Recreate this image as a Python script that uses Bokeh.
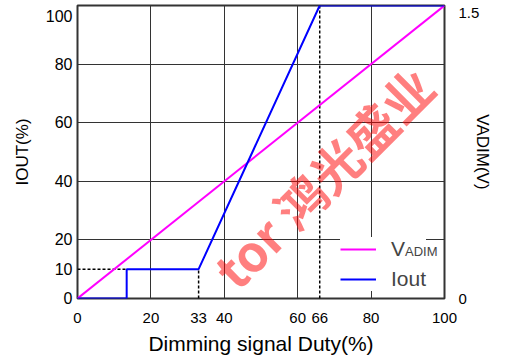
from bokeh.plotting import figure
from bokeh.models import FixedTicker, LinearAxis, Range1d, Label, Legend, LegendItem
from bokeh.core.properties import value
from bokeh.embed import file_html
from bokeh.resources import INLINE

# ---------------- data ----------------
x_ticks = [0, 20, 33, 40, 60, 66, 80, 100]
y_ticks = [0, 10, 20, 40, 60, 80, 100]
v_ticks = [0.0, 1.5]
grid_vals = [20, 40, 60, 80]

# Iout (%) versus dimming duty (%)
iout_x = [0, 13.4, 13.4, 33, 66, 100]
iout_y = [0, 0, 10, 10, 100, 100]

# VADIM (V) versus dimming duty (%)
vadim_x = [0, 100]
vadim_v = [0.0, 1.5]

FONT = "Liberation Sans"

p = figure(width=520, height=362, x_range=Range1d(0, 100), y_range=Range1d(0, 100),
           output_backend="svg", toolbar_location=None, title=None,
           min_border_left=77, min_border_right=76, min_border_top=5, min_border_bottom=64)
p.extra_y_ranges = {"v": Range1d(0, 1.5)}

p.outline_line_color = "#333333"
p.outline_line_width = 2
p.background_fill_color = "white"
p.border_fill_color = "white"

# grid
p.xgrid.ticker = FixedTicker(ticks=grid_vals)
p.ygrid.ticker = FixedTicker(ticks=grid_vals)
for g in (p.xgrid, p.ygrid):
    g.grid_line_color = "#333333"
    g.grid_line_width = 1

# axes
p.xaxis.ticker = FixedTicker(ticks=x_ticks)
p.yaxis.ticker = FixedTicker(ticks=y_ticks)
p.yaxis.major_label_overrides = {y_ticks[-1]: "\n" + str(y_ticks[-1])}
right = LinearAxis(y_range_name="v", ticker=FixedTicker(ticks=v_ticks))
right.major_label_overrides = {v_ticks[-1]: "\n" + str(v_ticks[-1])}
p.add_layout(right, "right")

for ax in (p.xaxis[0], p.yaxis[0], right):
    ax.axis_line_color = None
    ax.major_tick_line_color = None
    ax.minor_tick_line_color = None
    ax.major_tick_in = 0
    ax.major_tick_out = 0
    ax.minor_tick_in = 0
    ax.minor_tick_out = 0
    ax.major_label_text_font = FONT
    ax.major_label_text_color = "black"
    ax.axis_label_text_font = FONT
    ax.axis_label_text_font_style = "normal"
    ax.axis_label_text_color = "black"

p.xaxis.major_label_text_font_size = "15px"
p.xaxis.major_label_standoff = 14
p.xaxis.axis_label = "Dimming signal Duty(%)"
p.xaxis.axis_label_text_font_size = "21px"
p.xaxis.axis_label_standoff = 6

p.yaxis.major_label_text_font_size = "16px"
p.yaxis.major_label_standoff = 5
p.yaxis.major_label_text_line_height = 0.45
p.yaxis.axis_label = "IOUT(%)"
p.yaxis.axis_label_text_font_size = "17px"
p.yaxis.axis_label_standoff = 11

right.major_label_text_font_size = "15px"
right.major_label_standoff = 14
right.major_label_text_line_height = 0.2
right.axis_label = "VADIM(V)"
right.axis_label_text_font_size = "17px"
right.axis_label_standoff = -9

# dashed guide lines derived from the Iout breakpoints
p.segment(x0=[0, iout_x[3], iout_x[4]], y0=[iout_y[2], 0, 0],
          x1=[iout_x[2], iout_x[3], iout_x[4]], y1=[iout_y[2], iout_y[3], iout_y[4]],
          line_color="black", line_width=1.5, line_dash="3 2")

r_v = p.line(vadim_x, vadim_v, y_range_name="v", line_color="#ff00ff", line_width=2)
r_i = p.line(iout_x, iout_y, line_color="#0000ff", line_width=2)

legend = Legend(items=[LegendItem(label=value("V"), renderers=[r_v]),
                       LegendItem(label=value("Iout"), renderers=[r_i])],
                location=(263, 7), glyph_width=36, glyph_height=24, label_height=24,
                spacing=6, padding=6, margin=0, label_standoff=15,
                label_text_font_size="21px", label_text_font=FONT,
                border_line_color=None, background_fill_color="white", background_fill_alpha=1)
p.add_layout(legend)

# subscript of the first legend entry
sub = Legend(items=[LegendItem(label=value("ADIM"), renderers=[r_v])],
             location=(328, 39), glyph_width=0, glyph_height=12, label_height=12,
             spacing=0, padding=0, margin=0, label_standoff=0,
             label_text_font_size="13px", label_text_font=FONT,
             label_text_baseline="alphabetic",
             border_line_color=None, background_fill_alpha=0)
p.add_layout(sub)

# watermark (kept inside the plot area)
p.add_layout(Label(x=0, y=0, x_offset=245, y_offset=122, text="tor 鸿光盛业", angle=45,
                   angle_units="deg", text_font="Noto Sans CJK SC", text_font_style="bold",
                   text_font_size="50px", text_color="red", text_alpha=0.5,
                   text_align="center", text_baseline="middle", level="overlay"))

open("out.html", "w").write(file_html(p, INLINE))
